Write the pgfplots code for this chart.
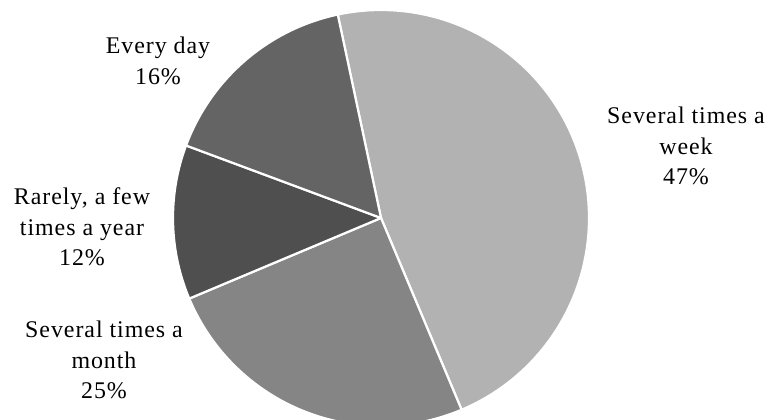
\documentclass[border=0pt]{standalone}
\usepackage{pgfplots}
\pgfplotsset{compat=1.18}
\usepackage{fontspec}
\setmainfont[LetterSpace=4]{Liberation Serif}
\definecolor{cweek}{HTML}{B2B2B2}
\definecolor{cmonth}{HTML}{858585}
\definecolor{crare}{HTML}{4F4F4F}
\definecolor{cday}{HTML}{646464}
% shares in percent
\def\pWeek{47}
\def\pMonth{25}
\def\pRare{12}
\def\pDay{16}
\def\cx{381}
\def\cy{202}
\def\rr{208}
\begin{document}
\begin{tikzpicture}
\pgfmathsetmacro\aA{102}
\pgfmathsetmacro\aB{\aA-3.6*\pWeek}
\pgfmathsetmacro\aC{\aB-3.6*\pMonth}
\pgfmathsetmacro\aD{\aC-3.6*\pRare}
\pgfmathsetmacro\aE{\aD-3.6*\pDay}
\begin{axis}[
  scale only axis, width=772bp, height=420bp,
  xmin=0, xmax=772, ymin=0, ymax=420,
  hide axis, clip=true,
  every axis plot/.append style={draw=white, line width=2.2bp, line join=round, samples=90, smooth=false, no markers},
]
\addplot[fill=cweek, domain=\aB:\aA] ({\cx+\rr*cos(x)},{\cy+\rr*sin(x)}) -- (axis cs:\cx,\cy) -- cycle;
\addplot[fill=cmonth, domain=\aC:\aB] ({\cx+\rr*cos(x)},{\cy+\rr*sin(x)}) -- (axis cs:\cx,\cy) -- cycle;
\addplot[fill=crare, domain=\aD:\aC] ({\cx+\rr*cos(x)},{\cy+\rr*sin(x)}) -- (axis cs:\cx,\cy) -- cycle;
\addplot[fill=cday, domain=\aE:\aD] ({\cx+\rr*cos(x)},{\cy+\rr*sin(x)}) -- (axis cs:\cx,\cy) -- cycle;
\end{axis}
\begin{scope}[every node/.style={align=center, font=\fontsize{24}{30.5}\selectfont, inner sep=0pt}]
\node at (686bp,{(420-146)*1bp}) {Several times a\\week\\47\%};
\node at (104bp,{(420-360)*1bp}) {Several times a\\month\\25\%};
\node at (82bp,{(420-227)*1bp}) {Rarely, a few\\times a year\\12\%};
\node at (158bp,{(420-61)*1bp}) {Every day\\16\%};
\end{scope}
\pgfresetboundingbox
\path[use as bounding box] (0,0) rectangle (772bp,420bp);
\end{tikzpicture}
\end{document}
